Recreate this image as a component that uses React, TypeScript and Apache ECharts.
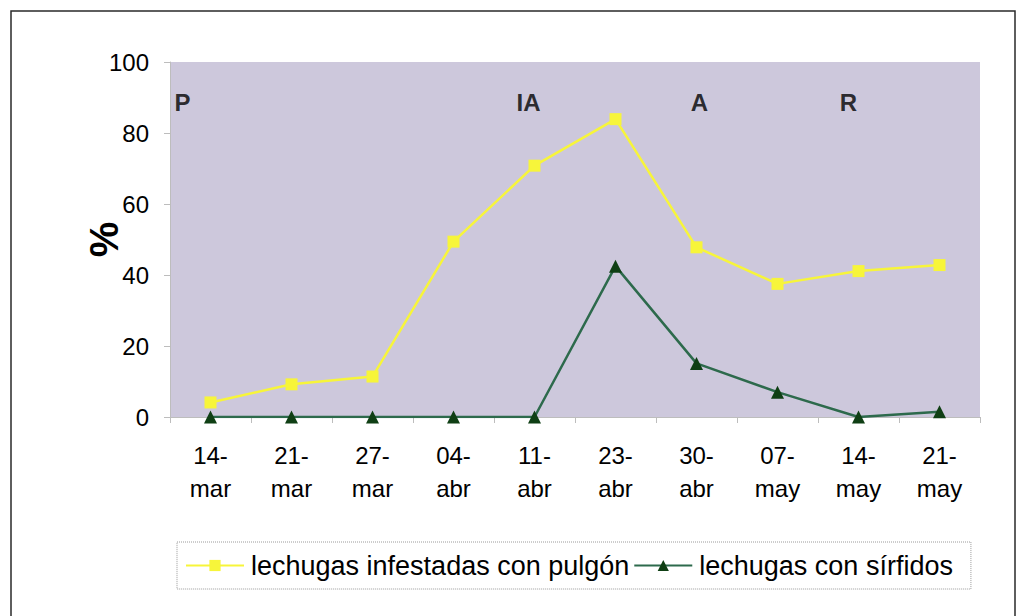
import React, { useEffect, useRef } from "react";
import * as echarts from "echarts";

const categories = ["14-\nmar", "21-\nmar", "27-\nmar", "04-\nabr", "11-\nabr", "23-\nabr", "30-\nabr", "07-\nmay", "14-\nmay", "21-\nmay"];
const pulgon = [4.1, 9.2, 11.4, 49.4, 70.8, 83.9, 47.8, 37.5, 41.1, 42.8];
const sirfidos = [0, 0, 0, 0, 0, 42.5, 15.1, 7, 0, 1.5];
const phaseLabels = ["P", "IA", "A", "R"];
const phaseIdx = [0, 4, 6, 8];
const phaseY = 88.7;
const yTicks = [0, 20, 40, 60, 80, 100];

const seriesNames = ["lechugas infestadas con pulgón", "lechugas con sírfidos"];

export default function App() {
  const ref = useRef<HTMLDivElement>(null);
  useEffect(() => {
    if (!ref.current) return;
    const chart = echarts.init(ref.current, null, { renderer: "svg" });
    const font = "'Liberation Sans', Arial, sans-serif";
    const phaseDx = [-28, -6, 3, -10];
    chart.setOption({
      animation: false,
      backgroundColor: "#ffffff",
      textStyle: { fontFamily: font },
      graphic: [
        {
          type: "rect",
          shape: { x: 11, y: 11, width: 1004, height: 612 },
          style: { fill: "none", stroke: "#2a2a2a", lineWidth: 1.5 },
          silent: true,
        },
      ],
      grid: {
        left: 170,
        top: 62,
        width: 810,
        height: 355,
        show: true,
        backgroundColor: "#cdc8dc",
        borderWidth: 0,
      },
      legend: {
        data: seriesNames,
        left: 177,
        top: 542,
        padding: [10, 18, 10, 8],
        itemWidth: 58,
        itemHeight: 14,
        itemGap: 4,
        borderColor: "#9a9a9a",
        borderWidth: 1,
        borderType: "dotted",
        textStyle: { fontSize: 27, color: "#000", fontFamily: font, padding: [0, 0, 0, 2] },
      },
      xAxis: {
        type: "category",
        data: categories,
        boundaryGap: true,
        axisLine: { show: true, lineStyle: { color: "#bdbdbd", width: 1 } },
        axisTick: { show: true, length: 6, lineStyle: { color: "#bdbdbd" } },
        axisLabel: {
          fontSize: 24,
          color: "#000",
          lineHeight: 33,
          margin: 22,
          fontFamily: font,
        },
        splitLine: { show: false },
      },
      yAxis: {
        type: "value",
        min: yTicks[0],
        max: yTicks[yTicks.length - 1],
        interval: 20,
        name: "%",
        nameLocation: "middle",
        nameRotate: 90,
        nameGap: 46,
        nameMoveOverlap: false,
        nameTextStyle: { fontSize: 40, fontWeight: "bold", color: "#000", fontFamily: font },
        axisLine: { show: true, lineStyle: { color: "#bdbdbd", width: 1 } },
        axisTick: { show: true, length: 6, lineStyle: { color: "#bdbdbd" } },
        axisLabel: { fontSize: 24, color: "#000", margin: 21, fontFamily: font },
        splitLine: { show: false },
      },
      series: [
        {
          name: seriesNames[0],
          type: "line",
          data: pulgon,
          symbol: "rect",
          symbolSize: 12,
          itemStyle: { color: "#f7f53a" },
          lineStyle: { color: "#f7f53a", width: 2.5 },
          z: 3,
        },
        {
          name: seriesNames[1],
          type: "line",
          data: sirfidos,
          symbol: "triangle",
          symbolSize: 13,
          itemStyle: { color: "#0f3f14" },
          lineStyle: { color: "#2d6a4c", width: 2.5 },
          z: 4,
        },
        {
          name: "fases",
          type: "scatter",
          data: phaseLabels.map((t, i) => ({ value: [phaseIdx[i], phaseY], name: t })),
          symbolSize: 0,
          silent: true,
          label: {
            show: true,
            position: "inside",
            formatter: (p: any) => p.name,
            fontSize: 24,
            fontWeight: "bold",
            color: "#000",
            fontFamily: font,
          },
          labelLayout: (p: any) => ({ dx: phaseDx[p.dataIndex] }),
          z: 5,
        },
      ],
    });
    return () => chart.dispose();
  }, []);
  return (
    <div
      ref={ref}
      style={{ position: "fixed", left: 0, top: 0, width: 1027, height: 616 }}
    />
  );
}
